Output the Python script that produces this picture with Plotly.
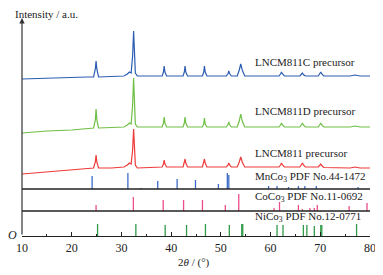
import plotly.graph_objects as go

# ---------------- data (intensity in a.u.) ----------------
two_theta = [10, 15, 20, 23, 24.4, 24.75, 24.9, 25.05, 25.4, 28, 30.5, 31.2, 31.6, 31.95,
             32.25, 32.45, 32.6, 32.8, 33.2, 36, 38.2, 38.45, 38.6, 38.75, 39.1, 42.4,
             42.65, 42.8, 42.95, 43.3, 46.3, 46.55, 46.7, 46.85, 47.2, 51.1, 51.45, 51.6,
             51.75, 52.1, 53.3, 53.7, 54.0, 54.3, 54.8, 58, 61.7, 62.0, 62.2, 62.4, 62.8,
             65.9, 66.2, 66.4, 66.6, 67.0, 69.6, 69.9, 70.1, 70.3, 70.7, 76, 77, 78, 80]

lncm811_y = [62, 64, 66, 67, 68, 74, 81, 74, 68, 68, 69, 71, 73, 72, 86, 107, 96, 71, 68,
             68.5, 69, 72, 76, 72, 69, 69, 73, 77, 73, 69, 69, 73, 77, 73, 69, 69, 71, 73,
             71, 69, 69, 74, 79, 74, 69, 69, 69, 71, 73, 71, 69, 69, 71, 73, 71, 69, 69,
             70.5, 72, 70.5, 68.5, 68, 69, 68, 68]

lncm811d_y = [103, 105, 106, 107, 108, 116, 127, 116, 108, 108.5, 109, 111, 113, 112, 131,
              158, 144, 112, 109, 109, 109, 113, 119, 113, 109, 109, 113, 119, 113, 109,
              109, 112, 118, 112, 109, 109, 111.5, 114, 111.5, 109, 109, 115, 122, 115,
              109, 109, 109, 111, 113, 111, 109, 109, 111, 113, 111, 109, 109, 111, 113,
              111, 109, 109, 110, 109, 109]

lncm811c_y = [157, 158, 158.5, 159, 159, 167, 175, 167, 159, 159.5, 160, 162, 164, 163, 180,
              205, 192, 163, 160, 160, 160, 164, 170, 164, 160, 160, 164, 170, 164, 160,
              160, 164, 170, 164, 160, 160, 162.5, 165, 162.5, 160, 160, 166, 172, 166,
              160, 160, 160, 162, 164, 162, 160, 160, 161.5, 163, 161.5, 160, 160, 162,
              164, 162, 160, 160, 161, 160, 160]

# reference patterns: positions (2theta) and relative line heights
mnco3_pos = [24.1, 31.3, 33.9, 37.3, 41.2, 44.9, 49.5, 51.3, 51.6, 59.6, 61.3, 63.6, 65.6,
             66.9, 69.2, 77.6]
mnco3_h = [13, 16, 1, 8, 10, 9, 5, 16, 14, 3, 3, 2, 3, 3, 3, 2]

coco3_pos = [24.9, 32.4, 38.4, 42.5, 46.3, 50.9, 53.6, 60.7, 61.8, 65.6, 66.4, 67.9, 68.8,
             69.4, 75.8, 79.4]
coco3_h = [6, 14, 11, 11, 11, 6, 17, 3, 9, 6, 2, 3, 3, 6, 5, 8]

nico3_pos = [25.2, 32.9, 38.8, 43.1, 46.9, 51.7, 54.2, 54.4, 61.3, 62.5, 66.6, 67.3, 68.8,
             70.1, 70.3, 77.3]
nico3_h = [12, 12, 11, 11, 12, 11, 12, 12, 11, 11, 11, 11, 10, 11, 11, 12]

x_ticks = [10, 20, 30, 40, 50, 60, 70, 80]

# baselines of the stick panels
MN_BASE, CO_BASE, NI_BASE = 47, 25, 0

SERIF = "Liberation Serif"


def sticks(pos, heights, base):
    xs, ys = [], []
    for p, h in zip(pos, heights):
        xs += [p, p, None]
        ys += [base, base + h, None]
    return xs, ys


fig = go.Figure()

for y, col in [(lncm811c_y, "#2c5db2"), (lncm811d_y, "#6fbf45"), (lncm811_y, "#ef3a3a")]:
    fig.add_trace(go.Scatter(x=two_theta, y=y, mode="lines",
                             line=dict(color=col, width=1.2), hoverinfo="skip"))

for pos, h, base, col in [(mnco3_pos, mnco3_h, MN_BASE, "#3b6cc8"),
                          (coco3_pos, coco3_h, CO_BASE, "#ec4d8c"),
                          (nico3_pos, nico3_h, NI_BASE, "#2f9a48")]:
    xs, ys = sticks(pos, h, base)
    fig.add_trace(go.Scatter(x=xs, y=ys, mode="lines",
                             line=dict(color=col, width=1.3), hoverinfo="skip"))

# separator lines between stick panels
for yb in (MN_BASE, CO_BASE):
    fig.add_shape(type="line", xref="x", yref="y", x0=10, x1=80, y0=yb, y1=yb,
                  line=dict(color="#222222", width=1.4))

# y axis with arrow
fig.add_annotation(x=10, y=218, ax=10, ay=0, xref="x", yref="y", axref="x", ayref="y",
                   text="", showarrow=True, arrowhead=2, arrowsize=0.9, arrowwidth=1.2,
                   arrowcolor="#333333")

ann_font = dict(family=SERIF, size=11, color="#222222")
labels = [
    ("LNCM811C precursor", 174),
    ("LNCM811D precursor", 125),
    ("LNCM811 precursor", 83),
    ("MnCo<sub>3</sub> PDF No.44-1472", 59),
    ("CoCo<sub>3</sub> PDF No.11-0692", 39),
    ("NiCo<sub>3</sub> PDF No.12-0771", 19),
]
for txt, yv in labels:
    fig.add_annotation(x=56.4, y=yv, xref="x", yref="y", text=txt, showarrow=False,
                       xanchor="left", yanchor="middle", font=ann_font)

fig.add_annotation(x=-0.026, y=1.0045, xref="paper", yref="paper", text="Intensity / a.u.",
                   showarrow=False, xanchor="left", yanchor="middle", font=ann_font)
fig.add_annotation(x=-0.026, y=0.005, xref="paper", yref="paper", text="<i>O</i>",
                   showarrow=False, xanchor="center", yanchor="middle",
                   font=dict(family=SERIF, size=12, color="#222222"))
fig.add_annotation(x=0.494, y=-0.118, xref="paper", yref="paper", text="2<i>θ</i> / (°)",
                   showarrow=False, xanchor="center", yanchor="middle", font=ann_font)

fig.update_layout(
    width=375, height=267,
    margin=dict(l=14, r=13, t=7, b=39),
    paper_bgcolor="white", plot_bgcolor="white",
    showlegend=False,
    xaxis=dict(range=[10, 80], tickvals=x_ticks, ticktext=[str(v) for v in x_ticks],
               showline=True, linecolor="#222222", linewidth=1.4, ticks="inside",
               ticklen=4, tickcolor="#222222", showgrid=False, zeroline=False,
               tickfont=dict(family=SERIF, size=12, color="#222222"),
               minor=dict(dtick=5, tick0=10, ticks="inside", ticklen=2,
                          tickcolor="#222222", showgrid=False)),
    yaxis=dict(range=[0, 221], showline=False, showticklabels=False, ticks="",
               showgrid=False, zeroline=False),
)

fig.write_html("out.html")
